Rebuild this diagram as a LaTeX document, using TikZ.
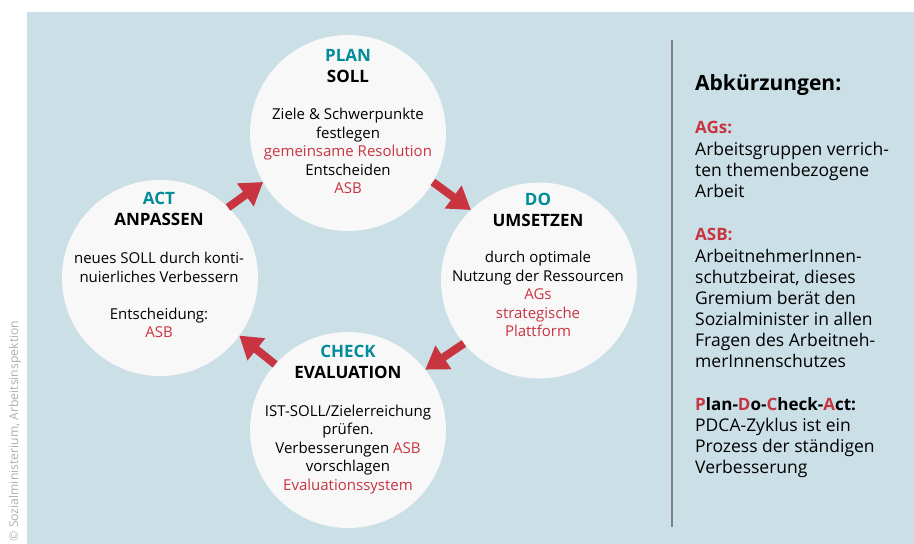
\documentclass[tikz,border=0pt]{standalone}
\usepackage{fontspec}
\setmainfont{Open Sans}
\usetikzlibrary{arrows.meta}
\definecolor{bgblue}{RGB}{203,223,230}
\definecolor{pdred}{RGB}{200,52,64}
\definecolor{pdteal}{RGB}{0,140,152}
\definecolor{circfill}{RGB}{248,248,248}
\definecolor{rulegrey}{RGB}{128,128,128}
\definecolor{copygrey}{RGB}{175,175,175}
\begin{document}
\begin{tikzpicture}[x=1pt,y=-1pt,
  phase/.style={circle, fill=circfill, minimum size=196pt, inner sep=0pt, outer sep=0pt},
  head/.style={font=\bfseries\fontsize{17}{21}\selectfont, align=center, inner sep=0pt, anchor=base},
  body/.style={font=\fontsize{15}{18.5}\selectfont, align=center, inner sep=0pt, anchor=base},
  flow/.style={draw=pdred, line width=8pt, -{Triangle[width=27pt,length=22pt]}},
  sidehead/.style={font=\bfseries\fontsize{21}{24}\selectfont, inner sep=0pt, anchor=base west},
  sidelabel/.style={font=\bfseries\fontsize{17}{21}\selectfont, inner sep=0pt, anchor=base west},
  sidebody/.style={font=\fontsize{17.5}{21}\selectfont, align=left, inner sep=0pt, anchor=base west}]
\useasboundingbox (0,0) rectangle (914,544);
\fill[bgblue] (27,12) rectangle (914,544);
\node[rotate=90, font=\fontsize{12.2}{14}\selectfont, text=copygrey, inner sep=0pt] (copyright) at (15,431) {© Sozialministerium, Arbeitsinspektion};

% circles
\node[phase] (plan) at (348,133) {};
\node[phase] (do) at (539,280.5) {};
\node[phase] (check) at (348,430) {};
\node[phase] (act) at (160,278) {};

% PLAN
\node[head] (planhead) at (348,82) {\textcolor{pdteal}{PLAN}\\SOLL};
\node[body] (planbody) at (348,193.7) {Ziele \& Schwerpunkte\\festlegen\\\textcolor{pdred}{gemeinsame Resolution}\\Entscheiden\\\textcolor{pdred}{ASB}};
% DO
\node[head] (dohead) at (538,226) {\textcolor{pdteal}{DO}\\UMSETZEN};
\node[body] (dobody) at (538,336.7) {durch optimale\\Nutzung der Ressourcen\\\textcolor{pdred}{AGs}\\\textcolor{pdred}{strategische}\\\textcolor{pdred}{Plattform}};
% CHECK
\node[head] (checkhead) at (348,378.3) {\textcolor{pdteal}{CHECK}\\EVALUATION};
\node[body] (checkbody) at (348,490) {IST-SOLL/Zielerreichung\\prüfen.\\Verbesserungen \textcolor{pdred}{ASB}\\vorschlagen\\\textcolor{pdred}{Evaluationssystem}};
% ACT
\node[head] (acthead) at (159,225.7) {\textcolor{pdteal}{ACT}\\ANPASSEN};
\node[body] (actbody) at (159,337.7) {neues SOLL durch konti-\\nuierliches Verbessern\\[18.5pt]Entscheidung:\\\textcolor{pdred}{ASB}};

% arrows
\draw[flow] (act.46) -- (plan.210);
\draw[flow] (plan.330) -- (do.134);
\draw[flow] (do.220) -- (check.38);
\draw[flow] (check.138) -- (act.324);

% divider
\coordinate (ruletop) at (672,40);
\coordinate (rulebot) at (672,527);
\draw[rulegrey, line width=1.5pt] (ruletop) -- (rulebot);

% abbreviations
\node[sidehead] (abbr) at (695,90) {Abkürzungen:};
\node[sidelabel, text=pdred] (agslabel) at (695,133) {AGs:};
\node[sidebody] (agsbody) at (695,197.7) {Arbeitsgruppen verrich-\\ten themenbezogene\\Arbeit};
\node[sidelabel, text=pdred] (asblabel) at (695,240) {ASB:};
\node[sidebody] (asbbody) at (695,367.3) {ArbeitnehmerInnen-\\schutzbeirat, dieses\\Gremium berät den\\Sozialminister in allen\\Fragen des Arbeitneh-\\merInnenschutzes};
\node[sidelabel] (pdcalabel) at (695,410) {\textcolor{pdred}{P}lan-\textcolor{pdred}{D}o-\textcolor{pdred}{C}heck-\textcolor{pdred}{A}ct:};
\node[sidebody] (pdcabody) at (695,473.3) {PDCA-Zyklus ist ein\\Prozess der ständigen\\Verbesserung};
\end{tikzpicture}
\end{document}
